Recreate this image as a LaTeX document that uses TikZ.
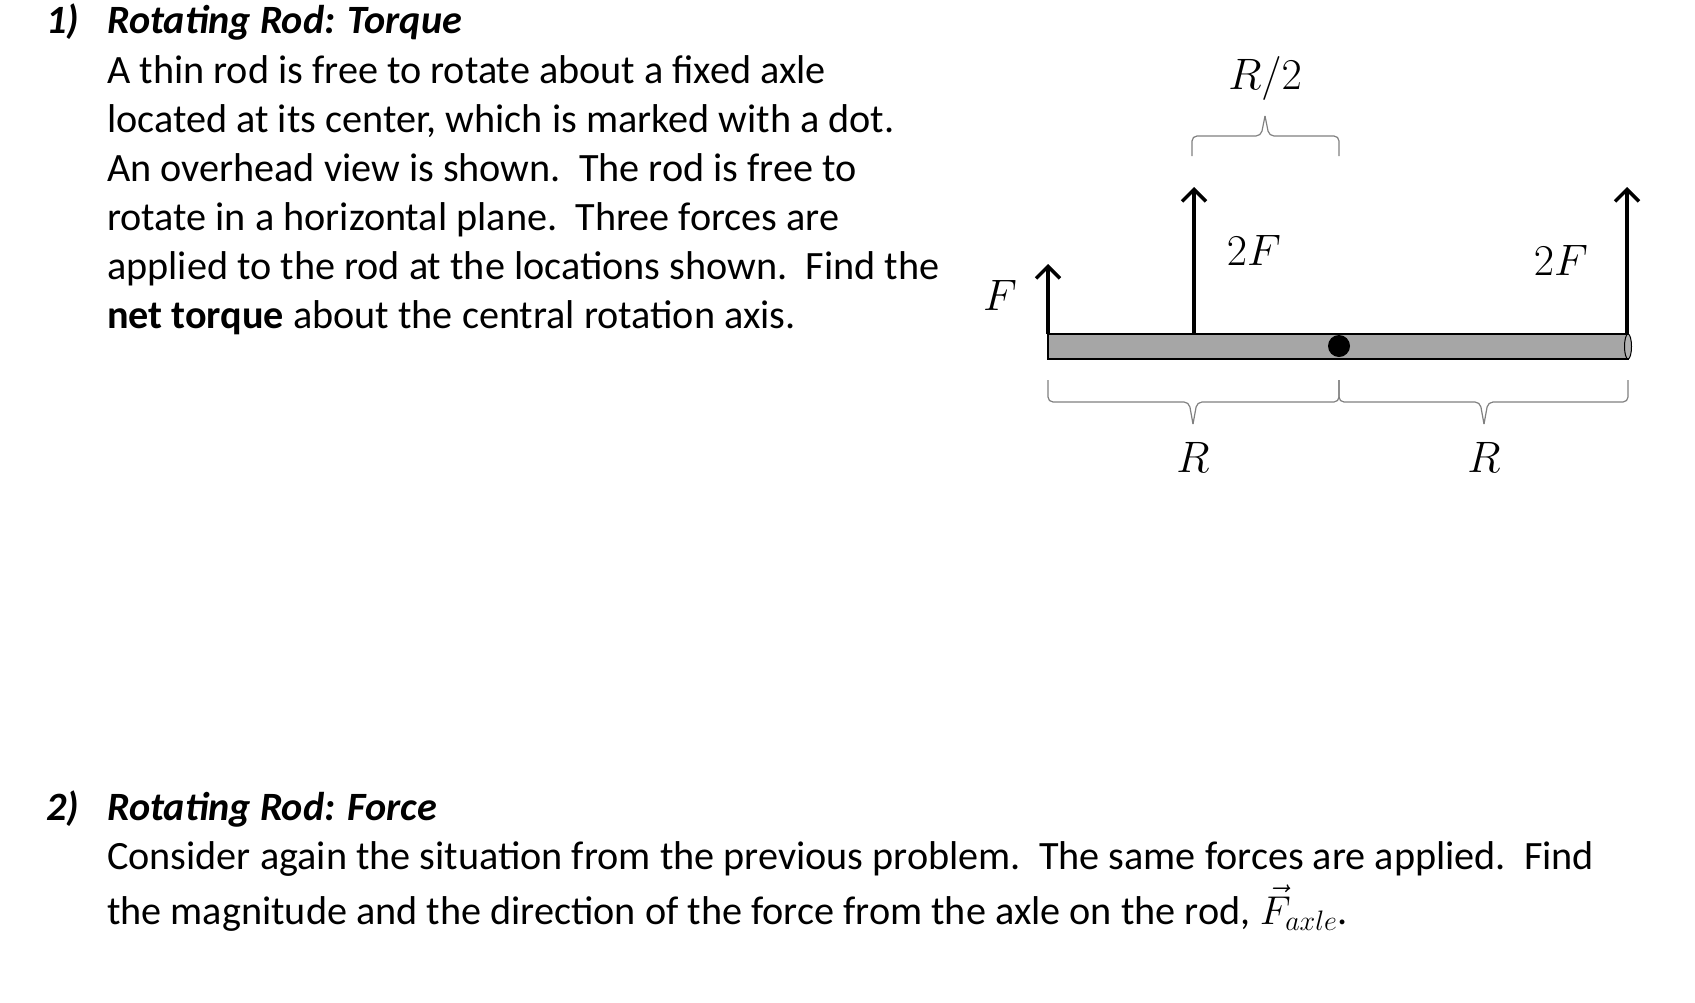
\documentclass[tikz,border=0pt]{standalone}
\usepackage{fix-cm}
\usepackage{fontspec}
\setmainfont{Carlito}
\usetikzlibrary{arrows.meta}
\begin{document}
\begin{tikzpicture}[x=1pt,y=-1pt,
  txt/.style={anchor=base west,inner sep=0,font=\fontsize{40.2}{49}\selectfont},
  hd/.style={anchor=base west,inner sep=0,font=\fontsize{40.2}{49}\selectfont\bfseries\itshape},
  lbl/.style={inner sep=0,font=\fontsize{44}{46}\selectfont},
  force/.style={line width=3.5pt,-{Straight Barb[length=12pt,width=24pt,line width=3.5pt]}},
  br/.style={draw=gray,line width=1.2pt,rounded corners=5pt}]
\useasboundingbox (0,0) rectangle (1695,1002);
% text
\node[hd] (n1) at (46,33) {1)};
\node[hd] (t1) at (107,33) {Rotating Rod: Torque};
\node[txt] (l1) at (107,83) {A thin rod is free to rotate about a fixed axle};
\node[txt] (l2) at (107,132) {located at its center, which is marked with a dot.};
\node[txt] (l3) at (107,181) {An overhead view is shown.\ \ The rod is free to};
\node[txt] (l4) at (107,230) {rotate in a horizontal plane.\ \ Three forces are};
\node[txt] (l5) at (107,279) {applied to the rod at the locations shown.\ \ Find the};
\node[txt] (l6) at (107,328) {\textbf{net torque} about the central rotation axis.};
\node[hd] (n2) at (46,820) {2)};
\node[hd] (t2) at (107,820) {Rotating Rod: Force};
\node[txt] (m1) at (107,869) {Consider again the situation from the previous problem.\ \ The same forces are applied.\ \ Find};
\node[txt] (m2) at (107,924) {the magnitude and the direction of the force from the axle on the rod, $\vec F_{axle}$.};
\begin{scope}[xshift=-6pt]
% rod
\draw[line width=1.5pt,fill=gray!70] (1054,334) rectangle (1634,359);
\draw[line width=1pt,fill=gray!60] (1634,346.5) ellipse (3.5 and 12.5);
\fill (1345,346) circle (11);
\coordinate (a1) at (1054,334); \coordinate (b1) at (1054,264);
\coordinate (a2) at (1200,334); \coordinate (b2) at (1200,187);
\coordinate (a3) at (1633,334); \coordinate (b3) at (1633,187);
\draw[force] (a1) -- (b1);
\draw[force] (a2) -- (b2);
\draw[force] (a3) -- (b3);
\node[lbl] (F) at (1006,295) {$F$};
\node[lbl] (F2a) at (1260,250) {$2F$};
\node[lbl] (F2b) at (1567,260) {$2F$};
% braces
\coordinate (c1) at (1198,156); \coordinate (c2) at (1345,156);
\draw[br] (c1) |- (1267,136) -- (1271,116);
\draw[br] (c2) |- (1275,136) -- (1271,116);
\node[lbl] (h) at (1271,78) {$R/2$};
\coordinate (d1) at (1054,380); \coordinate (d2) at (1345,380); \coordinate (d3) at (1634,380);
\draw[br] (d1) |- (1195,402) -- (1199,424);
\draw[br] (d2) |- (1203,402) -- (1199,424);
\draw[br] (d2) |- (1486,402) -- (1490,424);
\draw[br] (d3) |- (1494,402) -- (1490,424);
\node[lbl] (r1) at (1199,457) {$R$};
\node[lbl] (r2) at (1490,457) {$R$};
\end{scope}
\end{tikzpicture}
\end{document}
